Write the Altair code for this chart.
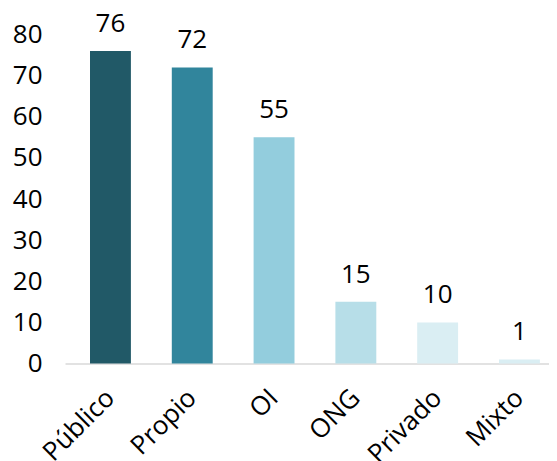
import altair as alt
import pandas as pd

categories = ["Público", "Propio", "OI", "ONG", "Privado", "Mixto"]
values = [76, 72, 55, 15, 10, 1]
bar_colors = ["#215967", "#31859C", "#93CDDD", "#B7DEE8", "#DAEEF3", "#DAEEF3"]
y_ticks = [0, 10, 20, 30, 40, 50, 60, 70, 80]

df = pd.DataFrame({"cat": categories, "val": values, "color": bar_colors})

FONT = "Open Sans"
FS = 26

x_enc = alt.X(
    "cat:N",
    sort=categories,
    title=None,
    scale=alt.Scale(paddingInner=0.5, paddingOuter=0.2085, align=0.733),
    axis=alt.Axis(
        labelAngle=-45,
        labelAlign="right",
        labelBaseline="middle",
        labelPadding=30,
        ticks=False,
        tickSize=0,
        domainColor="#D9D9D9",
        domainWidth=1.5,
        labelFont=FONT,
        labelFontSize=FS,
        labelColor="black",
    ),
)
y_enc = alt.Y(
    "val:Q",
    title=None,
    scale=alt.Scale(domain=[0, 80], nice=False),
    axis=alt.Axis(
        values=y_ticks,
        grid=False,
        domain=False,
        ticks=False,
        tickSize=0,
        labelPadding=23,
        labelFont=FONT,
        labelFontSize=FS,
        labelColor="black",
    ),
)

bars = alt.Chart(df).mark_bar().encode(
    x=x_enc, y=y_enc, color=alt.Color("color:N", scale=None)
)
text = alt.Chart(df).mark_text(
    baseline="alphabetic", dy=-19, font=FONT, fontSize=FS, color="black"
).encode(x=x_enc, y=y_enc, text="val:Q")

chart = (
    (bars + text)
    .properties(
        width=484,
        height=329,
        padding={"left": 57, "top": 26.5, "right": 0, "bottom": 97.5},
        autosize=alt.AutoSizeParams(type="none"),
        background="white",
    )
    .configure_view(stroke=None)
)

chart.save("out.html", embed_options={"renderer": "svg", "actions": False})
